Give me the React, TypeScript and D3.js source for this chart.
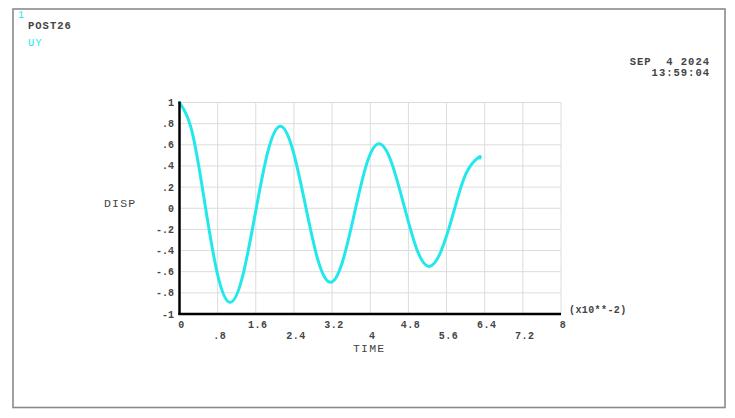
import React from 'react';
import * as d3 from 'd3';

// TIME (x10**-2) and DISP (UY)
const timeValues = [
  0, 0.265, 0.53, 0.795, 1.06, 1.32, 1.585, 1.85, 2.11, 2.37, 2.635, 2.9, 3.16,
  3.415, 3.67, 3.925, 4.18, 4.44, 4.705, 4.97, 5.23, 5.49, 5.75, 6.01, 6.27, 6.3,
];
const dispValues = [
  1, 0.72, 0.05, -0.62, -0.89, -0.65, -0.06, 0.53, 0.775, 0.56, 0.04, -0.485, -0.7,
  -0.51, -0.045, 0.42, 0.61, 0.44, 0.03, -0.38, -0.55, -0.4, -0.035, 0.33, 0.48, 0.475,
];

const xTicks = [0, 0.8, 1.6, 2.4, 3.2, 4, 4.8, 5.6, 6.4, 7.2, 8];
const xTickLabels = ['0', '.8', '1.6', '2.4', '3.2', '4', '4.8', '5.6', '6.4', '7.2', '8'];
const yTicks = [1, 0.8, 0.6, 0.4, 0.2, 0, -0.2, -0.4, -0.6, -0.8, -1];
const yTickLabels = ['1', '.8', '.6', '.4', '.2', '0', '-.2', '-.4', '-.6', '-.8', '-1'];

const W = 735;
const H = 418;
const FONT = '"Liberation Mono", "DejaVu Sans Mono", monospace';
const TEXT = '#444';
const CYAN = '#22e8ec';

export default function App() {
  const x = d3.scaleLinear().domain([0, 8]).range([179.5, 561]);
  const y = d3.scaleLinear().domain([-1, 1]).range([314, 102.5]);

  const pts: [number, number][] = timeValues.map((t, i) => [t, dispValues[i]]);
  const line = d3
    .line<[number, number]>()
    .x((d) => x(d[0]))
    .y((d) => y(d[1]))
    .curve(d3.curveNatural);

  const pre = { whiteSpace: 'pre' as const };

  return (
    <svg
      width={W}
      height={H}
      style={{ position: 'absolute', left: 0, top: 0, background: '#fff' }}
    >
      <rect x={0} y={0} width={W} height={H} fill="#fff" />
      {/* frame */}
      <rect x={13} y={9} width={712} height={398.5} fill="none" stroke="#8a8a8a" strokeWidth={1.6} />

      {/* header */}
      <text x={18} y={18} fontFamily={FONT} fontSize={10} fill={CYAN}>1</text>
      <text x={28} y={29} fontFamily={FONT} fontSize={10.5} letterSpacing={1} fontWeight="bold" fill={TEXT}>
        POST26
      </text>
      <text x={28} y={46} fontFamily={FONT} fontSize={10.5} letterSpacing={1} fill={CYAN}>
        UY
      </text>
      <text x={710} y={65} textAnchor="end" fontFamily={FONT} fontSize={10.5} letterSpacing={1} fontWeight="bold" fill={TEXT} style={pre}>
        {'SEP  4 2024'}
      </text>
      <text x={710} y={76} textAnchor="end" fontFamily={FONT} fontSize={10.5} letterSpacing={1} fontWeight="bold" fill={TEXT}>
        13:59:04
      </text>

      {/* grid */}
      <g stroke="#dcdcdc" strokeWidth={1}>
        {xTicks.slice(1).map((t) => (
          <line key={'gx' + t} x1={x(t)} x2={x(t)} y1={y(1)} y2={y(-1)} />
        ))}
        {yTicks.slice(0, -1).map((v) => (
          <line key={'gy' + v} x1={x(0)} x2={x(8)} y1={y(v)} y2={y(v)} />
        ))}
      </g>

      {/* curve */}
      <path d={line(pts) ?? ''} fill="none" stroke={CYAN} strokeWidth={3} strokeLinejoin="round" strokeLinecap="round" />

      {/* axes */}
      <line x1={x(0)} x2={x(0)} y1={y(1) - 1} y2={y(-1) + 1} stroke="#000" strokeWidth={2.5} />
      <line x1={x(0) - 1} x2={x(8)} y1={y(-1)} y2={y(-1)} stroke="#000" strokeWidth={2.5} />

      {/* y tick labels */}
      {yTicks.map((v, i) => (
        <text
          key={'yl' + v}
          x={174}
          y={y(v) + 3.5}
          textAnchor="end"
          fontFamily={FONT}
          fontSize={10}
          fontWeight="bold"
          fill={TEXT}
        >
          {yTickLabels[i]}
        </text>
      ))}

      {/* x tick labels, staggered */}
      {xTicks.map((t, i) => (
        <text
          key={'xl' + t}
          x={x(t) + 2}
          y={i % 2 === 0 ? 328 : 339}
          textAnchor="middle"
          fontFamily={FONT}
          fontSize={10}
          fontWeight="bold"
          letterSpacing={0.5}
          fill={TEXT}
        >
          {xTickLabels[i]}
        </text>
      ))}

      <text x={569} y={313} fontFamily={FONT} fontSize={10} letterSpacing={0.4} fontWeight="bold" fill={TEXT}>
        (x10**-2)
      </text>

      <text x={104} y={207} fontFamily={FONT} fontSize={11.5} letterSpacing={1.2} fill={TEXT}>
        DISP
      </text>
      <text x={353} y={352} fontFamily={FONT} fontSize={11.5} letterSpacing={1.2} fill={TEXT}>
        TIME
      </text>
    </svg>
  );
}
